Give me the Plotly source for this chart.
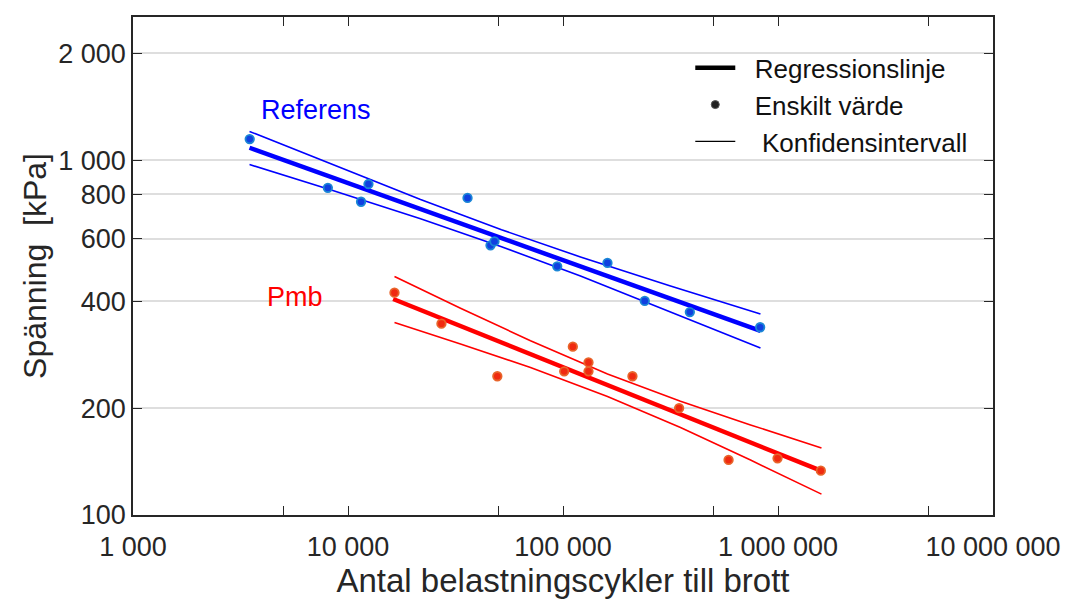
import plotly.graph_objects as go

# ---- data ----
ref_cycles = [3490, 8060, 11500, 12450, 35970, 46000, 48000, 94000, 161000, 240000, 389000, 826000]
ref_stress = [1146, 835, 763, 856, 782, 575, 590, 502, 513, 401, 373, 338]

pmb_cycles = [16450, 27200, 49500, 101300, 111100, 131400, 131400, 210400, 346700, 589000, 995000, 1582000]
pmb_stress = [423, 346, 246, 254, 298, 269, 254, 246, 200, 142.9, 144.4, 133.3]

ref_reg_x = [3483, 828800]
ref_reg_y = [1083, 330]
ref_ci_x = [3483, 8288, 21750, 51760, 120600, 316200, 828800]
ref_ci_upper = [1204, 974.4, 773.8, 636.3, 533.3, 441.7, 368.1]
ref_ci_lower = [971.2, 824.4, 682.8, 570.0, 471.0, 374.1, 295.6]

pmb_reg_x = [16220, 1582000]
pmb_reg_y = [406, 133.3]
pmb_ci_x = [16455, 33370, 70610, 161060, 352000, 745000, 1593000]
pmb_ci_upper = [469.6, 382.4, 309.7, 249.7, 209.3, 179.4, 154.5]
pmb_ci_lower = [348.5, 303.4, 260.3, 215.7, 176.3, 142.8, 114.5]

x_tickvals = [1000, 5000, 10000, 50000, 100000, 500000, 1000000, 5000000, 10000000]
x_ticktext = ["1 000", "", "10 000", "", "100 000", "", "1 000 000", "", "10 000 000"]
y_tickvals = [100, 200, 400, 600, 800, 1000, 2000]
y_ticktext = ["100", "200", "400", "600", "800", "1 000", "2 000"]

FONT = "Arial, Liberation Sans, Helvetica, sans-serif"
BLUE = "#0000ff"
RED = "#ff0000"
NB = "\u00a0"

fig = go.Figure()

def add_group(cx, cu, cl, rx, ry, px, py, color, mfill, mline):
    fig.add_trace(go.Scatter(x=cx, y=cu, mode="lines", line=dict(color=color, width=1.6),
                             showlegend=False, hoverinfo="skip"))
    fig.add_trace(go.Scatter(x=cx, y=cl, mode="lines", line=dict(color=color, width=1.6),
                             showlegend=False, hoverinfo="skip"))
    fig.add_trace(go.Scatter(x=rx, y=ry, mode="lines", line=dict(color=color, width=4.5),
                             showlegend=False))
    fig.add_trace(go.Scatter(x=px, y=py, mode="markers",
                             marker=dict(size=8.5, color=mfill, line=dict(color=mline, width=1.8)),
                             showlegend=False))

add_group(ref_ci_x, ref_ci_upper, ref_ci_lower, ref_reg_x, ref_reg_y,
          ref_cycles, ref_stress, BLUE, "#1040e0", "#1a86d6")
add_group(pmb_ci_x, pmb_ci_upper, pmb_ci_lower, pmb_reg_x, pmb_reg_y,
          pmb_cycles, pmb_stress, RED, "#f02a10", "#e8642a")

# legend-only entries
fig.add_trace(go.Scatter(x=[None], y=[None], mode="lines", name=NB * 2 + "Regressionslinje",
                         line=dict(color="black", width=4.5)))
fig.add_trace(go.Scatter(x=[None], y=[None], mode="markers", name=NB * 2 + "Enskilt värde",
                         marker=dict(size=8, color="#222222", line=dict(color="#555555", width=1))))
fig.add_trace(go.Scatter(x=[None], y=[None], mode="lines", name=NB * 3 + "Konfidensintervall",
                         line=dict(color="black", width=1.3)))

axis_common = dict(
    showline=True, linecolor="#262626", linewidth=1.5, mirror="ticks",
    ticks="inside", ticklen=9, tickwidth=1.3, tickcolor="#262626",
    tickfont=dict(family=FONT, size=27, color="#262626"),
    zeroline=False,
)

fig.update_xaxes(type="log", range=[3, 7], tickvals=x_tickvals, ticktext=x_ticktext,
                 showgrid=False, ticklabelstandoff=7,
                 title=dict(text="Antal belastningscykler till brott",
                            font=dict(family=FONT, size=33, color="#262626"), standoff=2),
                 **axis_common)
fig.update_yaxes(type="log", range=[2, 3.403], tickvals=y_tickvals, ticktext=y_ticktext,
                 showgrid=True, gridcolor="#dedede", gridwidth=1.5,
                 title=dict(text="Spänning" + NB + " [kPa]",
                            font=dict(family=FONT, size=32, color="#262626"), standoff=2),
                 **axis_common)

fig.add_annotation(x=3.584, y=3.141, xref="x", yref="y", text="Referens", showarrow=False,
                   xanchor="left", yanchor="middle", font=dict(family=FONT, size=27, color=BLUE))
fig.add_annotation(x=3.616, y=2.614, xref="x", yref="y", text="Pmb", showarrow=False,
                   xanchor="left", yanchor="middle", font=dict(family=FONT, size=27, color=RED))

fig.update_layout(
    width=1065, height=600,
    margin=dict(l=133, r=72, t=17, b=85, autoexpand=False),
    paper_bgcolor="white", plot_bgcolor="white",
    showlegend=True,
    legend=dict(x=0.648, y=0.945, xanchor="left", yanchor="top", bgcolor="rgba(0,0,0,0)",
                font=dict(family=FONT, size=26, color="#111111"), itemwidth=40,
                tracegroupgap=0),
)

fig.write_html("out.html")
